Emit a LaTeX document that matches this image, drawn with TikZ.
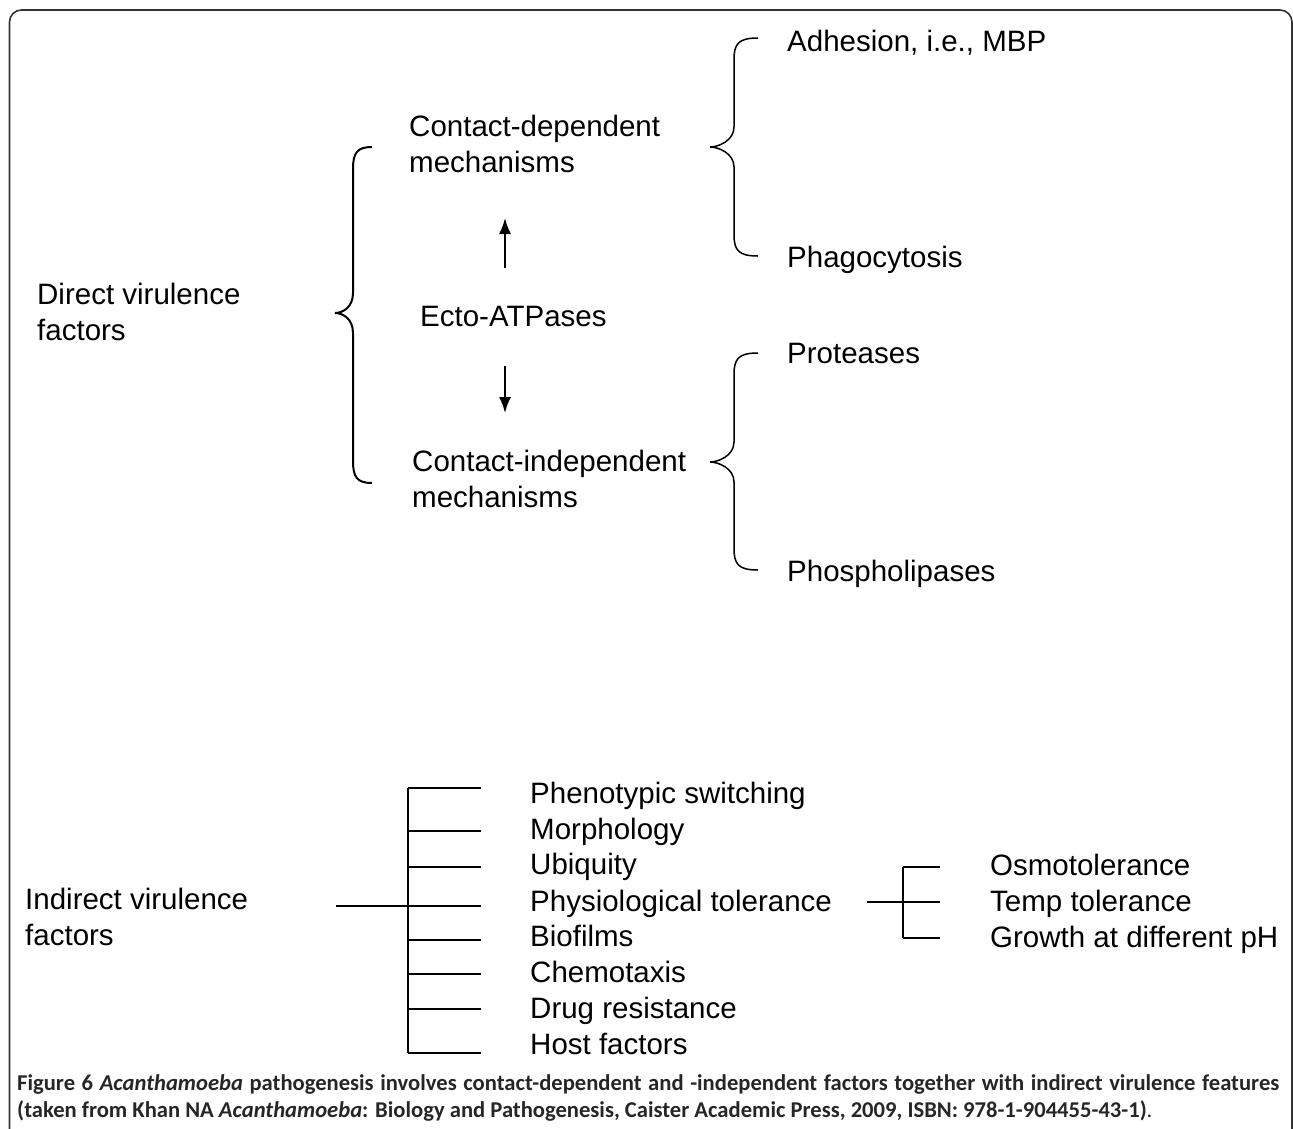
\documentclass[tikz,border=0pt]{standalone}
\usepackage{fontspec}
\setmainfont{Liberation Sans}
\newfontfamily\capfont{Carlito}
\usepackage{tikz}
\usetikzlibrary{arrows.meta}
\def\curlybrace[#1](#2,#3,#4)(#5,#6,#7){\draw[#1] (#4,#5) .. controls ({#3+4},#5) and (#3,{#5+6}) .. (#3,{#5+22}) -- (#3,{#6-20}) .. controls (#3,{#6-6}) and ({#2+8},#6) .. (#2,#6) .. controls ({#2+8},#6) and (#3,{#6+6}) .. (#3,{#6+20}) -- (#3,{#7-22}) .. controls (#3,{#7-6}) and ({#3+4},#7) .. (#4,#7);}
\tikzset{
	twoline/.style={anchor=west, inner sep=0pt, align=left, font=\fontsize{29.5}{35.5}\selectfont},
	label/.style={anchor=west, inner sep=0pt, text height=22.5pt, text depth=0pt, font=\fontsize{29.5}{35.5}\selectfont},
	tree/.style={line width=2pt},
	frame/.style={line width=1.6pt, color=black!80, rounded corners=12pt},
	updown/.style={line width=1.8pt, -{Latex[length=16pt,width=12pt]}}
}
\begin{document}
\begin{tikzpicture}[x=1pt, y=-1pt]
			%%%%% START %%%%%
			\useasboundingbox (0,0) rectangle (1293,1128);
			\draw[frame] (9.5,1140) -- (9.5,10) -- (1292,10) -- (1292,1140);
			
			\node[twoline] (direct) at (37,312) {Direct virulence\\factors};
			\curlybrace[line width=2pt](335,353,372)(147,313,483);
			
			\node[twoline] (dep) at (409,144) {Contact-dependent\\mechanisms};
			\node[label] (ecto) at (420,315) {Ecto-ATPases};
			\node[twoline] (indep) at (412,479) {Contact-independent\\mechanisms};
			
			\coordinate (uptail) at (505,268);
			\coordinate (uptip) at (505,218);
			\coordinate (downtail) at (505,366);
			\coordinate (downtip) at (505,413);
			\draw[updown] (uptail) -- (uptip);
			\draw[updown] (downtail) -- (downtip);
			
			\curlybrace[line width=1.5pt](710,734,758)(38,147,256);
			\curlybrace[line width=1.5pt](710,734,758)(353,462,570);
			\node[label] (adhesion) at (787,40) {Adhesion, i.e., MBP};
			\node[label] (phago) at (787,256) {Phagocytosis};
			\node[label] (prot) at (787,352) {Proteases};
			\node[label] (phospho) at (787,570) {Phospholipases};
			
			% indirect factors
			\node[twoline] (indirect) at (25,917) {Indirect virulence\\factors};
			\coordinate (stem) at (336,906);
			\coordinate (root) at (408,906);
			\draw[tree] (stem) -- (root);
			\draw[tree] (408,788) -- (408,1053);
			\foreach \y/\ty/\name/\txt in {788/792/pheno/Phenotypic switching, 831/828/morph/Morphology, 867/863/ubiq/Ubiquity, 906/900/physio/Physiological tolerance, 940/935/bio/Biofilms, 974/971/chemo/Chemotaxis, 1009/1007/drug/Drug resistance, 1053/1043/host/Host factors}
			{
				\draw[tree] (408,\y) -- (481,\y);
				\node[label] (\name) at (530,\ty) {\txt};
			}
			
			\coordinate (subleft) at (867,902);
			\coordinate (substem) at (903,902);
			\draw[tree] (subleft) -- (substem);
			\draw[tree] (903,867) -- (903,938);
			\foreach \y/\ty/\name/\txt in {867/864/osmo/Osmotolerance, 902/900/temp/Temp tolerance, 938/936/growth/Growth at different pH}
			{
				\draw[tree] (903,\y) -- (940,\y);
				\node[label] (\name) at (990,\ty) {\txt};
			}
			
			\node[anchor=north west, inner sep=0pt, text width=1262pt, align=justify, font=\capfont\fontsize{22.6}{27}\selectfont, text=black!85] (caption) at (17,1074) {\textbf{Figure 6 \textit{Acanthamoeba} pathogenesis involves contact-dependent and -independent factors together with indirect virulence features\linebreak (taken from Khan NA \textit{Acanthamoeba}: Biology and Pathogenesis, Caister Academic Press, 2009, ISBN: 978-1-904455-43-1)}.};
			%%%%% END %%%%%
\end{tikzpicture}
\end{document}
